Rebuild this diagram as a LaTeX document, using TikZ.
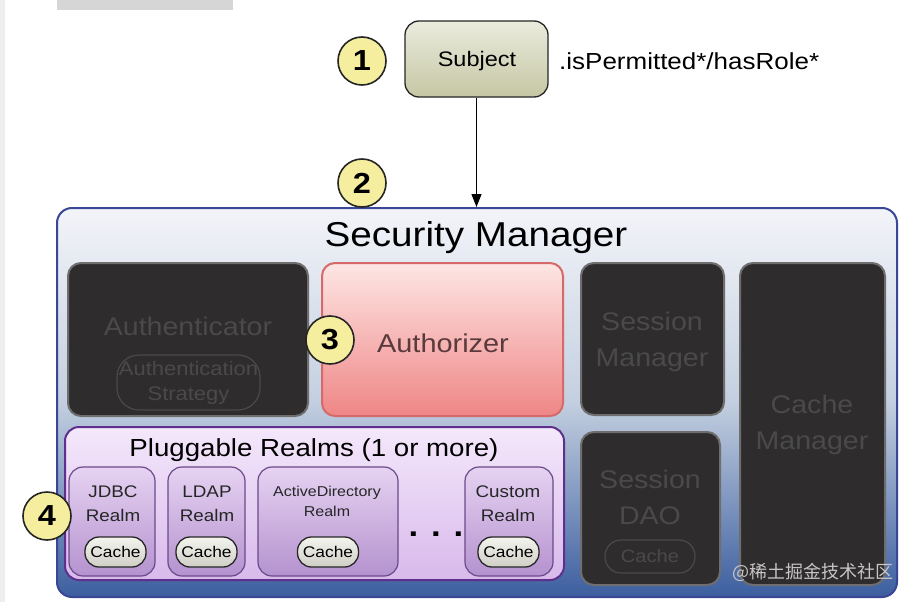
\documentclass[tikz,border=0pt]{standalone}
\usepackage{fontspec}
\setmainfont[FakeStretch=1.12]{Liberation Sans}
\newfontfamily\cjk{Noto Sans CJK SC}
\usetikzlibrary{arrows.meta}
\definecolor{stripgray}{HTML}{EEEEEE}
\definecolor{topgray}{HTML}{D6D6D6}
\definecolor{smtop}{HTML}{F3F4F9}
\definecolor{smmid}{HTML}{C3CFE0}
\definecolor{smbot}{HTML}{3C5E9F}
\definecolor{smborder}{HTML}{3A4796}
\definecolor{darkfill}{HTML}{2F2C2E}
\definecolor{darkline}{HTML}{6E6E6E}
\definecolor{darktext}{HTML}{4A4A4A}
\definecolor{aztop}{HTML}{FDE6E4}
\definecolor{azbot}{HTML}{EF8686}
\definecolor{azborder}{HTML}{D66A6A}
\definecolor{aztext}{HTML}{5A3A3C}
\definecolor{subtop}{HTML}{EAEBDD}
\definecolor{subbot}{HTML}{C5C7A4}
\definecolor{yel}{HTML}{F5EE9E}
\definecolor{prtop}{HTML}{F4E8FB}
\definecolor{prbot}{HTML}{D8B9EB}
\definecolor{prborder}{HTML}{5E2F8C}
\definecolor{rtop}{HTML}{E6D3F2}
\definecolor{rbot}{HTML}{B592CF}
\definecolor{rborder}{HTML}{6B4A8A}
\definecolor{ctop}{HTML}{F4F4EF}
\definecolor{cbot}{HTML}{CFCFC6}
\definecolor{wm}{HTML}{C6C6C6}
\newcommand\fsz[2]{\fontsize{#1}{#2}\selectfont}
\begin{document}
\begin{tikzpicture}[x=1pt,y=-1pt,
  darkbox/.style={draw=darkline, line width=2pt, fill=darkfill, rounded corners=13pt, inner sep=0pt},
  darklabel/.style={text=darktext, align=center, inner sep=0pt},
  realmbox/.style={draw=rborder, line width=1.2pt, top color=rtop, bottom color=rbot, rounded corners=14pt, inner sep=0pt, minimum height=109pt},
  realmlabel/.style={align=center, inner sep=0pt, text=black!85},
  cachepill/.style={draw=black!85, line width=1.3pt, top color=ctop, bottom color=cbot, rounded corners=14pt, minimum width=61pt, minimum height=30pt, inner sep=0pt, font=\fsz{15.5}{18}},
  numcircle/.style={circle, draw=black!85, line width=1.6pt, fill=yel, minimum size=48pt, inner sep=0pt, font=\fsz{29}{30}\bfseries}
]
\useasboundingbox (0,0) rectangle (913,602);
\fill[white] (0,0) rectangle (913,602);
\fill[stripgray] (0,0) rectangle (5,602);
\fill[topgray] (57,0) rectangle (233,10);

% Subject
\node[draw=black!85, line width=1.3pt, top color=subtop, bottom color=subbot, rounded corners=14pt,
      minimum width=143pt, minimum height=76pt, inner sep=0pt] (subj) at (476.5,59) {};
\node[inner sep=0pt, font=\fsz{21}{24}] (subjlabel) at (477,61) {Subject};
\node[anchor=west, inner sep=0pt, font=\fsz{23.2}{26}] (perm) at (559,61) {.isPermitted*/hasRole*};

% Security Manager
\node[draw=smborder, line width=2pt, top color=smtop, bottom color=smbot, middle color=smmid,
      rounded corners=15pt, minimum width=840pt, minimum height=389pt, inner sep=0pt] (sm) at (477,402.5) {};
\node[inner sep=0pt, font=\fsz{34.5}{38}] (smlabel) at (476,238) {Security Manager};

% Authenticator
\node[darkbox, minimum width=240pt, minimum height=153pt] (auth) at (188,339.5) {};
\node[darklabel, font=\fsz{25.5}{30}] (authlabel) at (188,326) {Authenticator};
\node[draw=darktext, line width=1.2pt, rounded corners=22pt, minimum width=143pt, minimum height=55pt,
      inner sep=0pt, text=darktext, align=center, font=\fsz{19.6}{25}] (strat) at (188.5,382.5) {Authentication\\Strategy};

% Authorizer
\node[draw=azborder, line width=2pt, top color=aztop, bottom color=azbot, rounded corners=13pt,
      minimum width=241pt, minimum height=153pt, inner sep=0pt] (authz) at (442.5,339.5) {};
\node[inner sep=0pt, text=aztext, font=\fsz{25.8}{30}] (authzlabel) at (443,343) {Authorizer};

% Session Manager
\node[darkbox, minimum width=143pt, minimum height=152pt] (sessm) at (652.5,339) {};
\node[darklabel, font=\fsz{25.5}{36}] (sessmlabel) at (652,342) {Session\\Manager};

% Session DAO
\node[darkbox, minimum width=139pt, minimum height=153pt] (sdao) at (650.5,508.5) {};
\node[darklabel, font=\fsz{25.5}{36}] (sdaolabel) at (650,497) {Session\\DAO};
\node[draw=darktext, line width=1.2pt, rounded corners=16pt, minimum width=90pt, minimum height=33pt,
      inner sep=0pt, text=darktext, font=\fsz{18}{20}] (sdaocache) at (650,556.5) {Cache};

% Cache Manager
\node[darkbox, minimum width=145pt, minimum height=322pt] (cachem) at (812.5,424) {};
\node[darklabel, font=\fsz{25.5}{36}] (cachemlabel) at (812,425) {Cache\\Manager};

% Pluggable Realms
\node[draw=prborder, line width=2pt, top color=prtop, bottom color=prbot, rounded corners=14pt,
      minimum width=499pt, minimum height=153pt, inner sep=0pt] (realms) at (314.5,503.5) {};
\node[inner sep=0pt, font=\fsz{24.7}{28}] (realmslabel) at (314,450) {Pluggable Realms (1 or more)};

% Realm boxes
\node[realmbox, minimum width=86pt] (jdbc) at (112,521.5) {};
\node[realmlabel, font=\fsz{16.8}{24}] (jdbclabel) at (113,504) {JDBC\\Realm};
\node[cachepill] (jdbccache) at (115.5,552) {Cache};

\node[realmbox, minimum width=77pt] (ldap) at (206.5,521.5) {};
\node[realmlabel, font=\fsz{16.8}{24}] (ldaplabel) at (207,504) {LDAP\\Realm};
\node[cachepill] (ldapcache) at (206.5,552) {Cache};

\node[realmbox, minimum width=140pt] (ad) at (328,521.5) {};
\node[realmlabel, font=\fsz{14.3}{20}] (adlabel) at (327,501) {ActiveDirectory\\Realm};
\node[cachepill] (adcache) at (328,552) {Cache};

\node[inner sep=0pt, font=\fsz{31}{32}\bfseries] (dots) at (436,534) {. . .};

\node[realmbox, minimum width=88pt] (custom) at (509,521.5) {};
\node[realmlabel, font=\fsz{16.8}{24}] (customlabel) at (508,504) {Custom\\Realm};
\node[cachepill] (customcache) at (508.5,552) {Cache};

% Arrow
\draw[-{Triangle[length=13pt,width=10pt]}, line width=1.2pt] (subj.south) -- (subj.south |- sm.north);

% Numbered circles
\node[numcircle] (c1) at (362,61) {1};
\node[numcircle] (c2) at (362,183) {2};
\node[numcircle] (c3) at (330,340) {3};
\node[numcircle] (c4) at (47,516) {4};

% Watermark
\node[inner sep=0pt, text=wm, font=\cjk\fsz{18}{20}] (wmark) at (813,572) {@稀土掘金技术社区};
\end{tikzpicture}
\end{document}
